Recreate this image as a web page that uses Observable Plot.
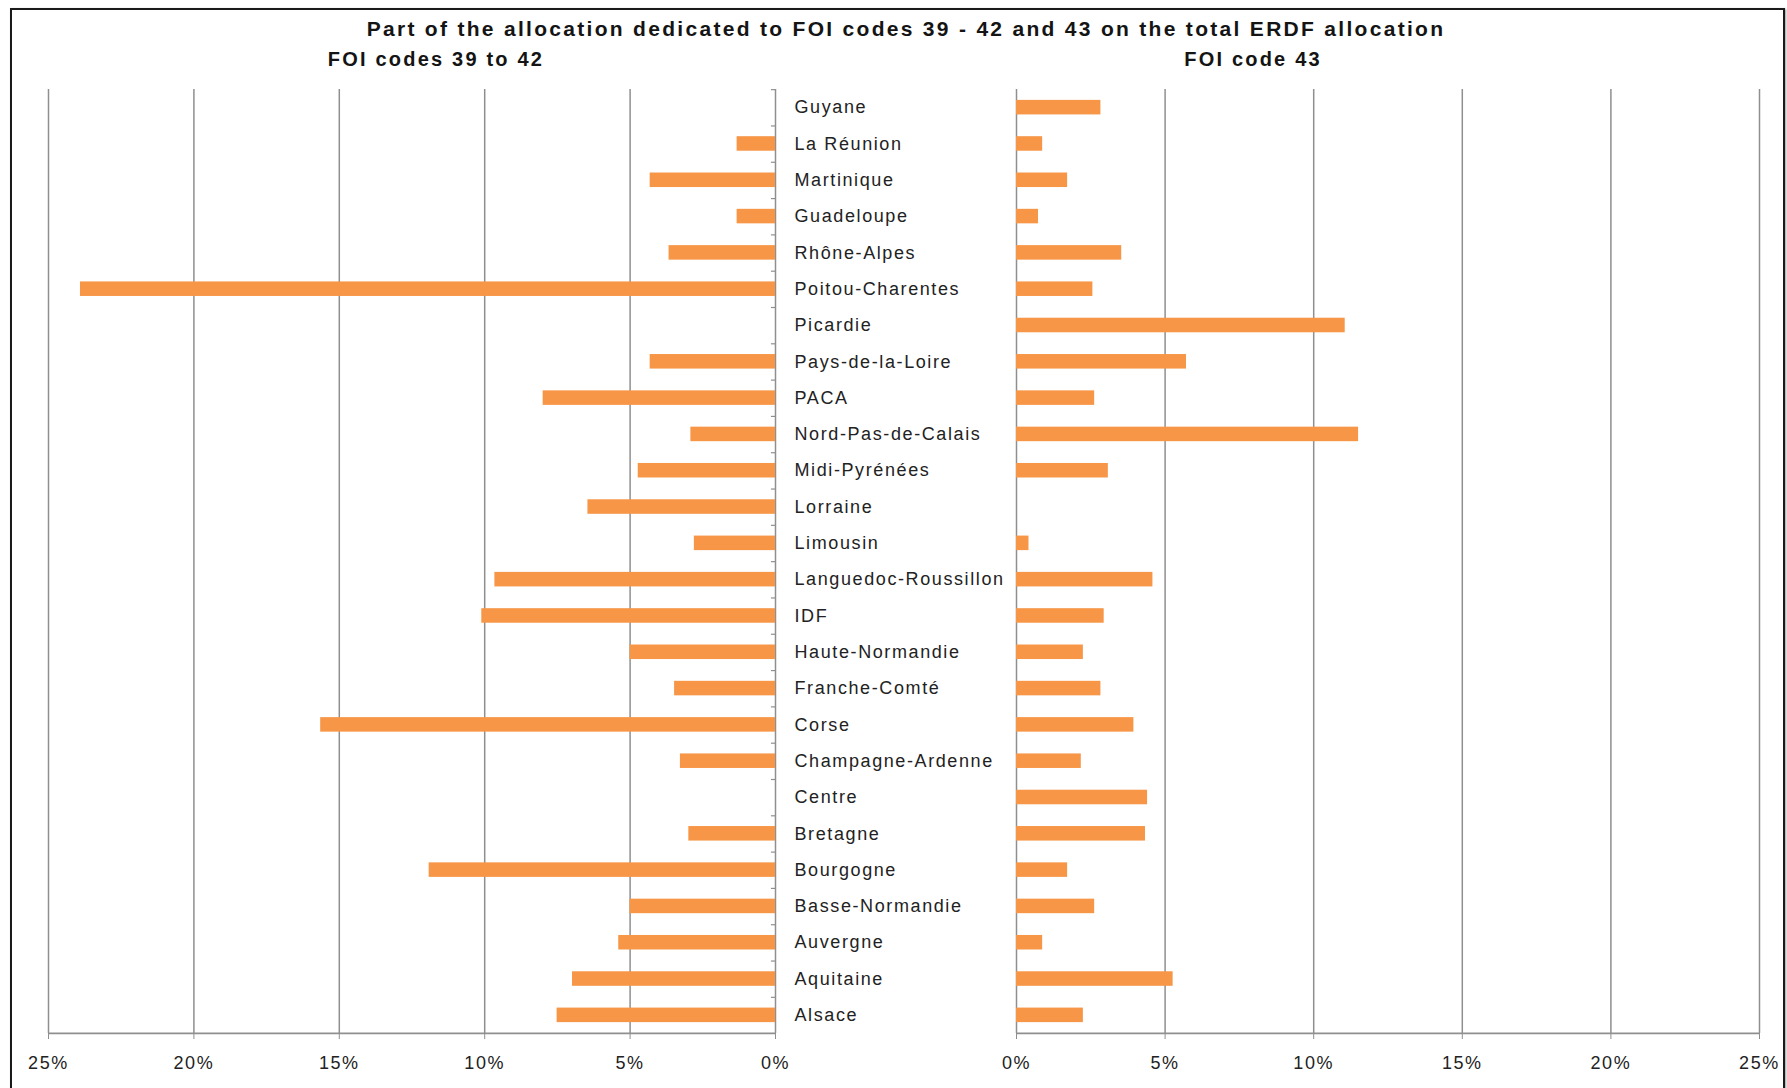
<!DOCTYPE html>
<html>
<head>
<meta charset="utf-8">
<script src="https://cdn.jsdelivr.net/npm/d3@7"></script>
<script src="https://cdn.jsdelivr.net/npm/@observablehq/plot@0.6"></script>
<style>
  body { margin: 0; background: #fff; font-family: "Liberation Sans", Arial, sans-serif; }
  #wrap { position: relative; width: 1787px; height: 1088px; overflow: hidden; background: #fff; }
  #frame { position: absolute; left: 10px; top: 8px; width: 1775px; height: 1120px; border: 2px solid #1a1a1a; box-sizing: border-box; box-shadow: 1px 1px 2px #999; }
  .t { position: absolute; transform: translate(-50%, -50%); white-space: nowrap; font-weight: bold; color: #141414; z-index: 5; }
  #left, #right { position: absolute; top: 0; }
  #left { left: 0; }
  #right { left: 990px; }
</style>
</head>
<body>
<div id="wrap">
  <div id="frame"></div>
  <div class="t" style="left:906px;top:29px;font-size:21px;letter-spacing:2.3px">Part of the allocation dedicated to FOI codes 39 - 42 and 43 on the total ERDF allocation</div>
  <div class="t" style="left:436px;top:59px;font-size:20px;letter-spacing:2.2px">FOI codes 39 to 42</div>
  <div class="t" style="left:1253px;top:59px;font-size:20px;letter-spacing:2.2px">FOI code 43</div>
  <div id="left"></div>
  <div id="right"></div>
</div>
<script>
const regions = ["Guyane", "La Réunion", "Martinique", "Guadeloupe", "Rhône-Alpes", "Poitou-Charentes", "Picardie", "Pays-de-la-Loire", "PACA", "Nord-Pas-de-Calais", "Midi-Pyrénées", "Lorraine", "Limousin", "Languedoc-Roussillon", "IDF", "Haute-Normandie", "Franche-Comté", "Corse", "Champagne-Ardenne", "Centre", "Bretagne", "Bourgogne", "Basse-Normandie", "Auvergne", "Aquitaine", "Alsace"];
const foi39to42 = [0, 1.32, 4.31, 1.32, 3.66, 23.9, 0, 4.31, 7.99, 2.91, 4.72, 6.45, 2.79, 9.65, 10.1, 5.0, 3.47, 15.64, 3.27, 0, 2.98, 11.91, 5.0, 5.39, 6.98, 7.51];
const foi43 = [2.84, 0.88, 1.72, 0.74, 3.54, 2.57, 11.06, 5.72, 2.63, 11.51, 3.09, 0, 0.42, 4.59, 2.95, 2.25, 2.84, 3.95, 2.18, 4.41, 4.34, 1.72, 2.63, 0.88, 5.27, 2.25];
const tickValues = [0, 5, 10, 15, 20, 25];

const barColor = "#F79646";
const gridColor = "#8f8f8f";
const textColor = "#222";

const leftRows = regions.map((r, i) => ({region: r, value: foi39to42[i]}));
const rightRows = regions.map((r, i) => ({region: r, value: foi43[i]}));

const baseStyle = {fontFamily: "'Liberation Sans', Arial, sans-serif", fontSize: "18px", letterSpacing: "1.6px", background: "transparent", overflow: "visible", color: textColor};
const yScale = {domain: regions, paddingInner: 0.6, paddingOuter: 0.3, round: false, axis: null};

const left = Plot.plot({
  width: 1016, height: 1088,
  marginLeft: 48, marginRight: 241, marginTop: 89, marginBottom: 55,
  style: baseStyle,
  x: {domain: [0, 25], reverse: true, axis: null},
  y: yScale,
  marks: [
    Plot.ruleX(tickValues, {stroke: gridColor, strokeWidth: 1.5}),
    Plot.ruleY(regions, {y: d => d, x1: 0, x2: 0.14, dy: -18, stroke: gridColor, strokeWidth: 1.2}),
    Plot.ruleY([regions[regions.length - 1]], {y: d => d, x1: 0, x2: 25, dy: 18, stroke: gridColor, strokeWidth: 1.6}),
    Plot.barX(leftRows, {y: "region", x: "value", fill: barColor}),
    Plot.axisX(tickValues, {anchor: "bottom", label: null, tickSize: 6, tickPadding: 17, tickFormat: d => d + "%", stroke: gridColor, fill: textColor, fontSize: 18}),
    Plot.text(regions, {y: d => d, x: 0, dx: 19, text: d => d, textAnchor: "start", fill: textColor, fontSize: 18})
  ]
});
document.getElementById("left").appendChild(left);

const right = Plot.plot({
  width: 797, height: 1088,
  marginLeft: 26, marginRight: 28, marginTop: 89, marginBottom: 55,
  style: baseStyle,
  x: {domain: [0, 25], axis: null},
  y: yScale,
  marks: [
    Plot.ruleX(tickValues, {stroke: gridColor, strokeWidth: 1.5}),
    Plot.ruleY([regions[regions.length - 1]], {y: d => d, x1: 0, x2: 25, dy: 18, stroke: gridColor, strokeWidth: 1.6}),
    Plot.barX(rightRows, {y: "region", x: "value", fill: barColor}),
    Plot.axisX(tickValues, {anchor: "bottom", label: null, tickSize: 6, tickPadding: 17, tickFormat: d => d + "%", stroke: gridColor, fill: textColor, fontSize: 18})
  ]
});
document.getElementById("right").appendChild(right);
</script>
</body>
</html>
